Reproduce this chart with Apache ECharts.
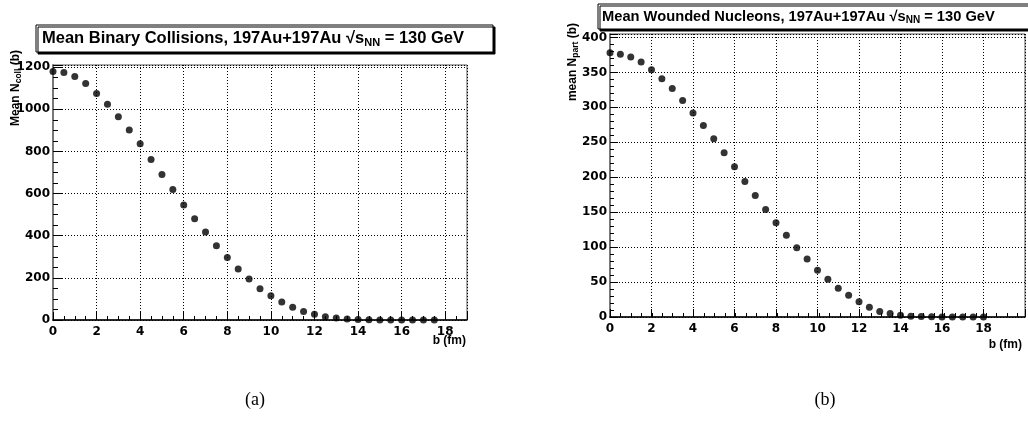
<!DOCTYPE html>
<html>
<head>
<meta charset="utf-8">
<script src="https://cdn.jsdelivr.net/npm/echarts@6/dist/echarts.min.js"></script>
<style>
  html, body { margin: 0; padding: 0; background: #fff; }
  #chart { width: 1028px; height: 424px; }
</style>
</head>
<body>
<div id="chart"></div>
<script>
// ---- data ----
const bLeft = [0,0.5,1,1.5,2,2.5,3,3.5,4,4.5,5,5.5,6,6.5,7,7.5,8,8.5,9,9.5,10,10.5,11,11.5,12,12.5,13,13.5,14,14.5,15,15.5,16,16.5,17,17.5];
const nColl = [1179,1174,1155,1122,1075,1024,964,901,836,762,690,619,546,480,418,352,296,242,195,148,115,85,60,40,27,16,10,5,2.5,1.2,0.5,0.25,0.1,0.05,0.02,0.01];
const bRight = [0,0.5,1,1.5,2,2.5,3,3.5,4,4.5,5,5.5,6,6.5,7,7.5,8,8.5,9,9.5,10,10.5,11,11.5,12,12.5,13,13.5,14,14.5,15,15.5,16,16.5,17,17.5,18];
const nPart = [378,376,372,365,354,341,327,310,292,274,255,235,215,194,174,154,135,117,99,83,67,54,41,31,22,14,8,5,2.5,1.2,0.6,0.3,0.15,0.08,0.04,0.02,0.01];
const xTicksLeft = [0,2,4,6,8,10,12,14,16,18];
const yTicksLeft = [0,200,400,600,800,1000,1200];
const yTicksRight = [0,50,100,150,200,250,300,350,400];

const titleLeft = ['Mean Binary Collisions, 197Au+197Au \u221As', 'NN', ' = 130 GeV'];
const titleRight = ['Mean Wounded Nucleons, 197Au+197Au \u221As', 'NN', ' = 130 GeV'];
const yNameLeft = ['Mean N', 'coll', ' (b)'];
const yNameRight = ['mean N', 'part', ' (b)'];
const xName = 'b (fm)';
const captions = ['(a)', '(b)'];

// ---- layout ----
const G = [
  {left: 53, top: 65, width: 414, height: 255},
  {left: 610, top: 34, width: 425, height: 283}
];
const numFont = 'DejaVu Sans';
const txtFont = 'Liberation Sans';

function labelFmt(list) {
  return function (v) { return list.indexOf(v) >= 0 ? String(v) : ''; };
}
function mainX(gi, max) {
  return {
    gridIndex: gi, type: 'value', min: 0, max: max, interval: 2,
    axisLine: {show: true, onZero: false, lineStyle: {color: '#000', width: 1.5}},
    axisTick: {show: true, inside: true, length: 8, lineStyle: {color: '#000', width: 1}},
    axisLabel: {formatter: labelFmt(xTicksLeft), fontFamily: numFont, fontWeight: 'bold', fontSize: 12, color: '#000', margin: 6},
    splitLine: {show: true, lineStyle: {type: [1, 2], color: '#000', width: 1}}
  };
}
function minorX(gi, max) {
  return {
    gridIndex: gi, type: 'value', min: 0, max: max, interval: 0.5,
    axisLine: {show: false, onZero: false},
    axisTick: {show: true, inside: true, length: 4, lineStyle: {color: '#000', width: 1}},
    axisLabel: {show: false}, splitLine: {show: false}
  };
}
function mainY(gi, max, interval, ticks, len) {
  return {
    gridIndex: gi, type: 'value', min: 0, max: max, interval: interval,
    axisLine: {show: true, onZero: false, lineStyle: {color: '#777', width: 2}},
    axisTick: {show: true, inside: true, length: len, lineStyle: {color: '#000', width: 1}},
    axisLabel: {formatter: labelFmt(ticks), fontFamily: numFont, fontWeight: 'bold', fontSize: 12, color: '#000', margin: 3},
    splitLine: {show: true, lineStyle: {type: [1, 2], color: '#000', width: 1}}
  };
}
function minorY(gi, max, interval, len) {
  return {
    gridIndex: gi, type: 'value', min: 0, max: max, interval: interval,
    axisLine: {show: false, onZero: false},
    axisTick: {show: true, inside: true, length: len, lineStyle: {color: '#000', width: 1}},
    axisLabel: {show: false}, splitLine: {show: false}
  };
}
function titleBox(x, y, w, h, parts, tx, fs) {
  return [
    {type: 'rect', z: 100, shape: {x: x, y: y, width: w, height: h},
     style: {fill: '#fff', stroke: '#000', lineWidth: 1, shadowColor: '#000', shadowOffsetX: 2, shadowOffsetY: 2, shadowBlur: 0}},
    {type: 'text', z: 101, x: tx, y: y + h / 2,
     style: {
       text: '{t|' + parts[0] + '}{s|' + parts[1] + '}{t|' + parts[2] + '}',
       verticalAlign: 'middle', textVerticalAlign: 'middle', align: 'left', textAlign: 'left',
       rich: {
         t: {fontFamily: txtFont, fontWeight: 'bold', fontSize: fs, lineHeight: fs + 3, fill: '#000', color: '#000'},
         s: {fontFamily: txtFont, fontWeight: 'bold', fontSize: Math.round(fs * 0.66), lineHeight: Math.round(fs * 0.66), verticalAlign: 'bottom', fill: '#000', color: '#000'}
       }
     }}
  ];
}
function yTitle(x, y, parts) {
  return {type: 'text', z: 100, x: x, y: y, rotation: Math.PI / 2,
    style: {
      text: '{t|' + parts[0] + '}{s|' + parts[1] + '}{t|' + parts[2] + '}',
      align: 'right', textAlign: 'right', verticalAlign: 'middle', textVerticalAlign: 'middle',
      rich: {
        t: {fontFamily: txtFont, fontWeight: 'bold', fontSize: 12, lineHeight: 14, fill: '#000', color: '#000'},
        s: {fontFamily: txtFont, fontWeight: 'bold', fontSize: 8.5, lineHeight: 8, verticalAlign: 'bottom', fill: '#000', color: '#000'}
      }
    }};
}
function plainText(x, y, text, font, align) {
  return {type: 'text', z: 100, x: x, y: y,
    style: {text: text, font: font, fill: '#000', align: align, textAlign: align, verticalAlign: 'middle', textVerticalAlign: 'middle'}};
}

const chart = echarts.init(document.getElementById('chart'), null, {renderer: 'canvas'});
chart.setOption({
  animation: false,
  backgroundColor: '#fff',
  grid: [
    Object.assign({show: true, borderColor: '#555', borderWidth: 1, backgroundColor: 'transparent'}, G[0]),
    Object.assign({show: true, borderColor: '#555', borderWidth: 1, backgroundColor: 'transparent'}, G[1]),
    Object.assign({}, G[0]),
    Object.assign({}, G[1])
  ],
  xAxis: [mainX(0, 19), mainX(1, 20), minorX(2, 19), minorX(3, 20)],
  yAxis: [
    mainY(0, 1210, 200, yTicksLeft, 10),
    mainY(1, 405, 50, yTicksRight, 8),
    minorY(2, 1210, 50, 5),
    minorY(3, 405, 10, 4)
  ],
  series: [
    {type: 'scatter', xAxisIndex: 0, yAxisIndex: 0, symbol: 'circle', symbolSize: 7,
     itemStyle: {color: '#000'}, data: bLeft.map((b, i) => [b, nColl[i]])},
    {type: 'scatter', xAxisIndex: 1, yAxisIndex: 1, symbol: 'circle', symbolSize: 7,
     itemStyle: {color: '#000'}, data: bRight.map((b, i) => [b, nPart[i]])}
  ],
  graphic: [].concat(
    titleBox(36, 25, 457, 27, titleLeft, 42, 16.5),
    titleBox(598, 4, 440, 25, titleRight, 602, 14.7),
    [
      yTitle(16, 50, yNameLeft),
      yTitle(573, 23, yNameRight),
      plainText(466, 341, xName, 'bold 12px "Liberation Sans"', 'right'),
      plainText(1022, 345, xName, 'bold 12px "Liberation Sans"', 'right'),
      plainText(255, 400, captions[0], '18px "Liberation Serif"', 'center'),
      plainText(825, 400, captions[1], '18px "Liberation Serif"', 'center')
    ]
  )
});
</script>
</body>
</html>
